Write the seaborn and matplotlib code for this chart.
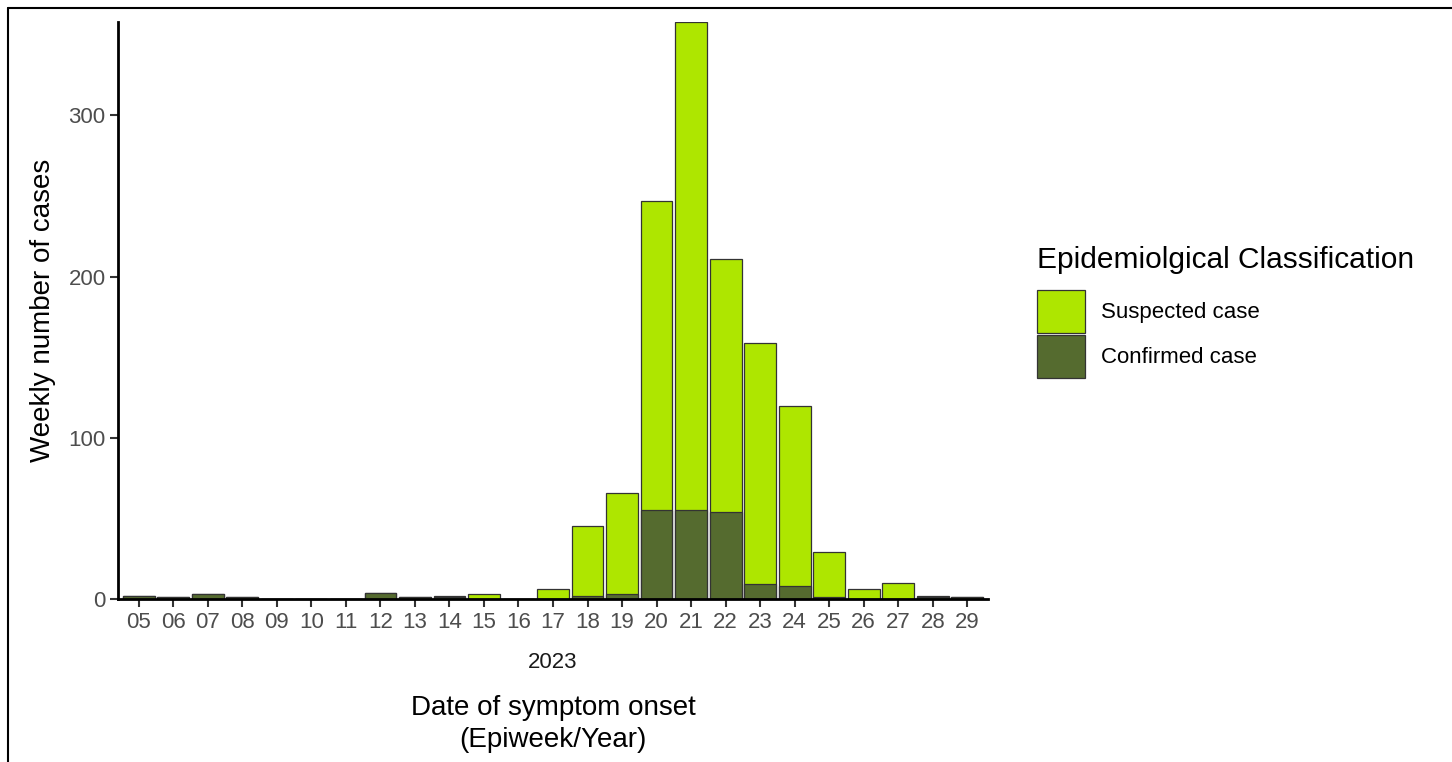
#stacked weekly epi curve
import pandas as pd
import seaborn as sns
import numpy as np
import matplotlib.pyplot as plt
from matplotlib.patches import Patch
from matplotlib.lines import Line2D

#data
weeks = ['05', '06', '07', '08', '09', '10', '11', '12', '13', '14', '15', '16', '17',
         '18', '19', '20', '21', '22', '23', '24', '25', '26', '27', '28', '29']
total_cases = [2, 1, 3, 1, 0, 0, 0, 4, 1, 2, 3, 0, 6,
               45, 66, 247, 358, 211, 159, 120, 29, 6, 10, 2, 1]
confirmed_cases = [2, 1, 3, 1, 0, 0, 0, 4, 1, 1, 0, 0, 0,
                   2, 3, 55, 55, 54, 9, 8, 1, 0, 0, 1, 1]
year_label = '2023'

suspected_col = '#aee600'
confirmed_col = '#556b2f'
edge_col = '#333333'

df = pd.DataFrame({'week': weeks, 'total': total_cases, 'confirmed': confirmed_cases})

sns.set_style('white')
plt.rcParams['font.family'] = ['Liberation Sans', 'DejaVu Sans']
plt.rcParams['text.color'] = 'black'

fig = plt.figure(figsize=(14.52, 7.62), dpi=100)
ax = fig.add_axes([118 / 1452, 1 - 599 / 762, 870 / 1452, 577 / 762])

#suspected on top of confirmed -> draw totals first, then confirmed over them
sns.barplot(data=df, x='week', y='total', color=suspected_col, edgecolor=edge_col,
            linewidth=0.9, width=0.92, saturation=1, ax=ax)
sns.barplot(data=df, x='week', y='confirmed', color=confirmed_col, edgecolor=edge_col,
            linewidth=0.9, width=0.92, saturation=1, ax=ax)

ax.set_xlim(-0.6, len(weeks) - 0.4)
ax.set_ylim(0, 358)
ax.set_yticks([0, 100, 200, 300])

sns.despine(ax=ax)
for side in ['left', 'bottom']:
    ax.spines[side].set_linewidth(2)
    ax.spines[side].set_color('black')

ax.tick_params(axis='both', length=6, width=1.5, color='#333333',
               labelsize=16, labelcolor='#4d4d4d', pad=3, bottom=True, left=True)

ax.set_ylabel('Weekly number of cases', fontsize=20, color='black', labelpad=9)
ax.set_xlabel('Date of symptom onset\n(Epiweek/Year)', fontsize=20, color='black',
              labelpad=45, linespacing=1.3)
ax.text(0.5, -0.11, year_label, transform=ax.transAxes, ha='center', va='center',
        fontsize=16, color='#1a1a1a')

handles = [Patch(facecolor=suspected_col, edgecolor=edge_col, linewidth=0.9),
           Patch(facecolor=confirmed_col, edgecolor=edge_col, linewidth=0.9)]
leg = fig.legend(handles, ['Suspected case', 'Confirmed case'],
                 title='Epidemiolgical Classification', loc='upper left',
                 bbox_to_anchor=(1021 / 1452, 1 - 230 / 762), frameon=False,
                 fontsize=16, title_fontsize=21.5, handlelength=2.16, handleheight=2.6,
                 labelspacing=0.08, handletextpad=0.75, borderpad=0.2)
leg._legend_box.align = 'left'
leg._legend_box.sep = 12
leg.get_title().set_color('black')
for t in leg.get_texts():
    t.set_color('black')

#screenshot frame along top and left
fig.add_artist(Line2D([8 / 1452, 8 / 1452], [0, 1 - 8 / 762], color='black', lw=1.5))
fig.add_artist(Line2D([8 / 1452, 1], [1 - 8 / 762, 1 - 8 / 762], color='black', lw=1.5))

plt.savefig('out.png', dpi=100)
